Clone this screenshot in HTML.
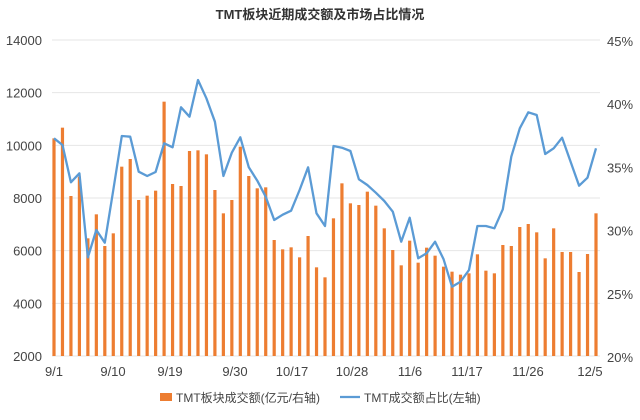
<!DOCTYPE html>
<html><head><meta charset="utf-8"><style>
body{margin:0;background:#fff;width:640px;height:415px;overflow:hidden}
text{font-family:"Liberation Sans","Noto Sans CJK SC",sans-serif}
</style></head><body>
<svg id="s" width="640" height="415" xmlns="http://www.w3.org/2000/svg"></svg>
<script>
const s=document.getElementById('s');let h='';
h+='<text x="320" y="19" text-anchor="middle" font-size="13" font-weight="bold" fill="#333">TMT板块近期成交额及市场占比情况</text>';
const lv=[14000,12000,10000,8000,6000,4000,2000],rv=['45%','40%','35%','30%','25%','20%'];
for(let i=0;i<7;i++){let y=40+i*316/6;h+=`<line x1="52" x2="600" y1="${y}" y2="${y}" stroke="#e6e6e6"/>`;
h+=`<text x="42" y="${y+5}" text-anchor="end" font-size="13" fill="#444">${lv[i]}</text>`;}
for(let i=0;i<6;i++){let y=40+i*316/5;h+=`<text x="607" y="${y+6}" font-size="13" fill="#444">${rv[i]}</text>`;}
const bz=[355,323,528,470,655,583,678,640,440,417,540,527,512,245,492,498,393,391,403,510,580,540,380,468,505,502,660,688,682,712,648,742,772,595,490,550,555,515,557,625,690,736,662,728,683,707,740,755,764,760,703,752,760,675,678,621,612,637,715,625,696,696,756,702,580];
const lz=[355,375,487,460,712,630,668,510,348,350,455,468,456,370,382,262,290,180,235,305,468,398,352,442,482,530,600,584,572,510,442,580,618,378,383,393,478,495,518,543,575,665,593,715,700,665,718,800,785,750,618,618,625,568,410,325,277,285,402,385,353,425,497,473,385];
const dx=(596-54)/64;let pts=[];
bz.forEach((z,i)=>{let x=54+i*dx,y=20+z/3;h+=`<rect x="${x-1.6}" y="${y}" width="3.2" height="${356-y}" fill="#ed7d31"/>`;pts.push((x).toFixed(1)+','+(20+lz[i]/3).toFixed(1));});
h+=`<polyline points="${pts.join(' ')}" fill="none" stroke="#5b9bd5" stroke-width="2.3" stroke-linejoin="round"/>`;
const xl=[['9/1',54],['9/10',113],['9/19',170],['9/30',235],['10/17',292],['10/28',352],['11/6',410],['11/17',467],['11/26',528],['12/5',590]];
xl.forEach(a=>h+=`<text x="${a[1]}" y="376" text-anchor="middle" font-size="13" fill="#444">${a[0]}</text>`);
h+='<rect x="160" y="393" width="12" height="8" fill="#ed7d31"/><text x="176" y="402" font-size="12" fill="#444">TMT板块成交额(亿元/右轴)</text>';
h+='<line x1="340" x2="360" y1="397" y2="397" stroke="#5b9bd5" stroke-width="2.3"/><text x="364" y="402" font-size="12" fill="#444">TMT成交额占比(左轴)</text>';
s.innerHTML=h;
</script>
</body></html>
